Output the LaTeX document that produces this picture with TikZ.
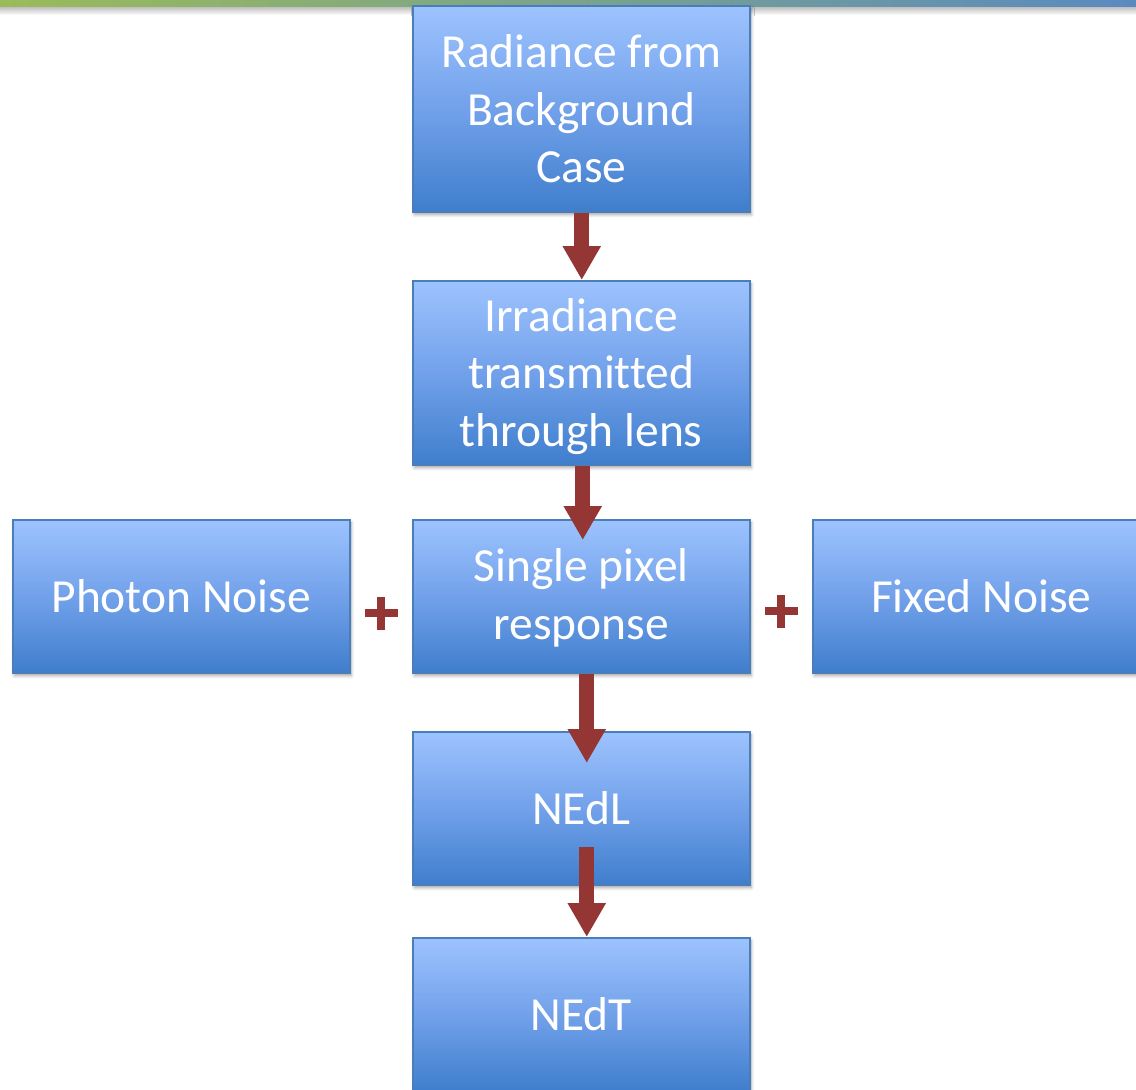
\documentclass[tikz,border=0pt]{standalone}
\usepackage{fontspec}
\setmainfont{Carlito}[Ligatures=NoCommon]
\usetikzlibrary{arrows.meta,shadows.blur,calc}
\definecolor{boxtop}{HTML}{9DC3FE}
\definecolor{boxmid}{HTML}{72A1EA}
\definecolor{boxbot}{HTML}{3F7ECD}
\definecolor{boxline}{HTML}{4A7EBB}
\definecolor{arrowred}{HTML}{943634}
\definecolor{barleft}{HTML}{9BBB59}
\definecolor{barright}{HTML}{5A8AC0}
\tikzset{
  flowbox/.style={draw=boxline, line width=1.5pt, top color=boxtop, bottom color=boxbot, middle color=boxmid,
    minimum width=337pt, anchor=north west, inner sep=4pt, text=white, align=center,
    font=\fontsize{47.5}{57.5}\selectfont,
    blur shadow={shadow xshift=1.5pt, shadow yshift=-3pt, shadow blur radius=3pt, shadow opacity=35}},
  blockarrow/.style={draw=arrowred, line width=15pt, -{Triangle[width=36pt,length=34pt]}, arrowred},
  plussign/.style={fill=arrowred}
}
\begin{document}
\begin{tikzpicture}[x=1pt,y=-1pt]
\clip (0,0) rectangle (1136,1090);
\useasboundingbox (0,0) rectangle (1136,1090);
% top bar
\shade[top color=black!28, bottom color=white] (0,6) rectangle (1136,15);
\shade[left color=barleft, right color=barright] (0,0) rectangle (1136,6.5);
% boxes
\node[flowbox, minimum height=206pt] (rad) at (412,5) {Radiance from\\Background\\Case};
\node[flowbox, minimum height=184pt] (irr) at (412,280) {\raisebox{-4.5pt}[\height][\depth]{\begin{tabular}{@{}c@{}}Irradiance\\transmitted\\through lens\end{tabular}}};
\node[flowbox, minimum height=153pt] (pix) at (412,519) {\raisebox{-2.5pt}[\height][\depth]{\begin{tabular}{@{}c@{}}Single pixel\\response\end{tabular}}};
\node[flowbox, minimum height=153pt] (pho) at (12,519) {Photon Noise};
\node[flowbox, minimum height=153pt] (fix) at (812,519) {Fixed Noise};
\node[flowbox, minimum height=153pt] (nedl) at (412,731) {NEdL};
\node[flowbox, minimum height=153pt] (nedt) at (412,937) {NEdT};
% arrow end points
\coordinate (a1s) at ($(rad.south)+(0.5,0)$);
\coordinate (a1e) at ($(irr.north)+(0.5,0)$);
\coordinate (a2s) at ($(irr.south)+(1.5,0)$);
\coordinate (a2e) at ($(pix.north)+(1.5,21)$);
\coordinate (a3s) at ($(pix.south)+(5.5,0)$);
\coordinate (a3e) at ($(nedl.north)+(5.5,32)$);
\coordinate (a4s) at ($(nedl.south)+(5.5,-39)$);
\coordinate (a4e) at ($(nedt.north)+(5.5,0)$);
\draw[blockarrow] (a1s) -- (a1e);
\draw[blockarrow] (a2s) -- (a2e);
\draw[blockarrow] (a3s) -- (a3e);
\draw[blockarrow] (a4s) -- (a4e);
% plus signs
\coordinate (plusL) at ($(pho.east)!0.5!(pix.west)+(0,17)$);
\coordinate (plusR) at ($(pix.east)!0.5!(fix.west)+(0,15)$);
\foreach \p in {plusL,plusR}{
  \fill[plussign] ($(\p)+(-16.5,-4)$) rectangle ($(\p)+(16.5,4)$);
  \fill[plussign] ($(\p)+(-4,-16.5)$) rectangle ($(\p)+(4,16.5)$);
}
\end{tikzpicture}
\end{document}
